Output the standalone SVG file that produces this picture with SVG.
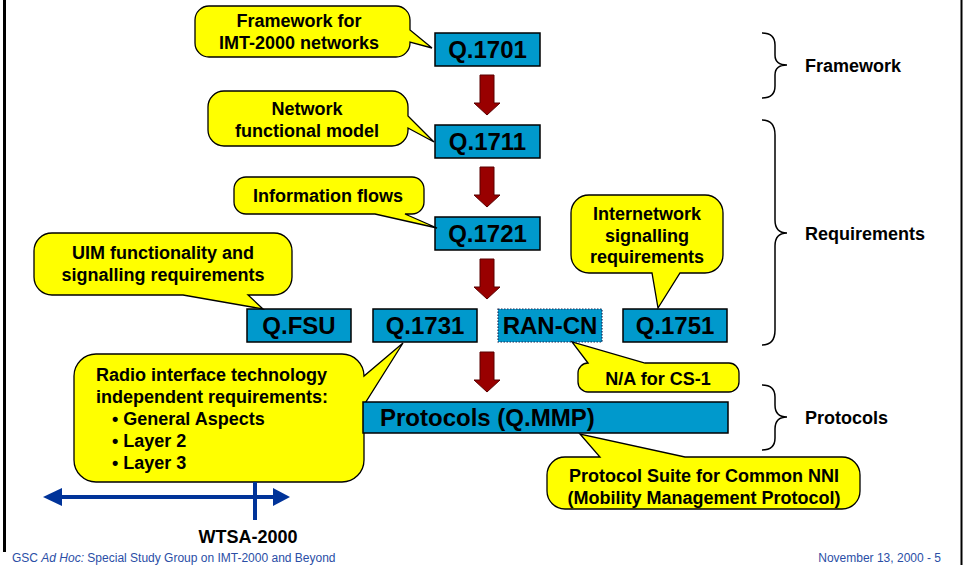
<svg xmlns="http://www.w3.org/2000/svg" width="965" height="571" viewBox="0 0 965 571">
<style>
.box{fill:#0099CC;stroke:#000;stroke-width:1.5}
.bt{font-family:"Liberation Sans",Arial,sans-serif;font-weight:bold;font-size:24px;fill:#000;text-anchor:middle}
.cl{fill:#FFFF00;stroke:#000;stroke-width:1.3;stroke-linejoin:miter}
.ct{font-family:"Liberation Sans",Arial,sans-serif;font-weight:bold;font-size:18px;fill:#000;text-anchor:middle}
.lt{font-family:"Liberation Sans",Arial,sans-serif;font-weight:bold;font-size:18px;fill:#000}
.br{fill:none;stroke:#000;stroke-width:1.5}
.arr{fill:#990000;stroke:#5a0000;stroke-width:1}
.ft{font-family:"Liberation Sans",Arial,sans-serif;font-size:12px;fill:#2a4ea6}
</style>
<rect width="965" height="571" fill="#fff"/>
<line x1="4.5" y1="0" x2="4.5" y2="552" stroke="#000" stroke-width="3"/>
<line x1="961.5" y1="0" x2="961.5" y2="565" stroke="#000" stroke-width="2"/>

<g id="connectors">
<path class="arr" d="M480,75 H494 V103 H500 L487,115 L474,103 H480 Z"/>
<path class="arr" d="M480,167 H494 V195 H500 L487,207 L474,195 H480 Z"/>
<path class="arr" d="M480,259 H494 V287 H500 L487,299 L474,287 H480 Z"/>
<path class="arr" d="M480,352 H494 V380 H500 L487,392 L474,380 H480 Z"/>
</g>

<g id="q1701"><rect class="box" x="435" y="33" width="105" height="33"/><text class="bt" x="487.5" y="58">Q.1701</text></g>
<g id="q1711"><rect class="box" x="435" y="125" width="105" height="33"/><text class="bt" x="487.5" y="150">Q.1711</text></g>
<g id="q1721"><rect class="box" x="435" y="217" width="105" height="33"/><text class="bt" x="487.5" y="242">Q.1721</text></g>
<g id="qfsu"><rect class="box" x="247" y="309" width="104" height="33"/><text class="bt" x="299" y="334">Q.FSU</text></g>
<g id="q1731"><rect class="box" x="373" y="309" width="104" height="33"/><text class="bt" x="425" y="334">Q.1731</text></g>
<g id="rancn"><rect x="498" y="309" width="104" height="33" fill="#0099CC" stroke="#1a2a55" stroke-width="1.2" stroke-dasharray="1.5,1.5"/><text class="bt" x="550" y="334">RAN-CN</text></g>
<g id="q1751"><rect class="box" x="623" y="309" width="104" height="33"/><text class="bt" x="675" y="334">Q.1751</text></g>

<g id="callout-radio">
<path class="cl" d="M96,354 H342 A22,22 0 0 1 364,376 L403,343 L364,405 V460 A22,22 0 0 1 342,482 H96 A22,22 0 0 1 74,460 V376 A22,22 0 0 1 96,354 Z"/>
<text class="lt" x="96" y="381">Radio interface technology</text>
<text class="lt" x="96" y="403">independent requirements:</text>
<text class="lt" x="112" y="425">• General Aspects</text>
<text class="lt" x="112" y="447">• Layer 2</text>
<text class="lt" x="112" y="469">• Layer 3</text>
</g>

<g id="qmmp"><rect class="box" x="363" y="402" width="365" height="31"/><text class="lt" x="380" y="426" style="font-size:24px">Protocols (Q.MMP)</text></g>

<g id="callout-framework">
<path class="cl" d="M209,6 H396 A14,14 0 0 1 410,20 V30 L432,48 L410,42 V43 A14,14 0 0 1 396,57 H209 A14,14 0 0 1 195,43 V20 A14,14 0 0 1 209,6 Z"/>
<text class="ct" x="299" y="27">Framework for</text>
<text class="ct" x="299" y="49">IMT-2000 networks</text>
</g>
<g id="callout-network">
<path class="cl" d="M224,91 H392 A16,16 0 0 1 408,107 V116 L434,142 L408,128 V130 A16,16 0 0 1 392,146 H224 A16,16 0 0 1 208,130 V107 A16,16 0 0 1 224,91 Z"/>
<text class="ct" x="307" y="115">Network</text>
<text class="ct" x="307" y="137">functional model</text>
</g>
<g id="callout-info">
<path class="cl" d="M246,177 H412 A12,12 0 0 1 424,189 V202 A12,12 0 0 1 412,214 H405 L437,228 L375,214 H246 A12,12 0 0 1 234,202 V189 A12,12 0 0 1 246,177 Z"/>
<text class="ct" x="328" y="202">Information flows</text>
</g>
<g id="callout-uim">
<path class="cl" d="M52,233 H274 A18,18 0 0 1 292,251 V277 A18,18 0 0 1 274,295 H248 L263,309 L183,295 H52 A18,18 0 0 1 34,277 V251 A18,18 0 0 1 52,233 Z"/>
<text class="ct" x="163" y="259">UIM functionality and</text>
<text class="ct" x="163" y="281">signalling requirements</text>
</g>
<g id="callout-internetwork">
<path class="cl" d="M589,195 H705 A18,18 0 0 1 723,213 V255 A18,18 0 0 1 705,273 H680 L658,308 L652,273 H589 A18,18 0 0 1 571,255 V213 A18,18 0 0 1 589,195 Z"/>
<text class="ct" x="647" y="220">Internetwork</text>
<text class="ct" x="647" y="242">signalling</text>
<text class="ct" x="647" y="263">requirements</text>
</g>
<g id="callout-na">
<path class="cl" d="M588,363 L572,342 L645,363 H729 A10,10 0 0 1 739,373 V382 A10,10 0 0 1 729,392 H588 A10,10 0 0 1 578,382 V373 A10,10 0 0 1 588,363 Z"/>
<text class="ct" x="658" y="385">N/A for CS-1</text>
</g>
<g id="callout-suite">
<path class="cl" d="M565,457 H600 L580,434 L685,457 H842 A18,18 0 0 1 860,475 V491 A18,18 0 0 1 842,509 H565 A18,18 0 0 1 547,491 V475 A18,18 0 0 1 565,457 Z"/>
<text class="ct" x="704" y="482">Protocol Suite for Common NNI</text>
<text class="ct" x="704" y="504">(Mobility Management Protocol)</text>
</g>

<g id="braces">
<path class="br" d="M762,33 Q775,33 775,45 V55 Q775,65 787,65 Q775,65 775,75 V86 Q775,98 762,98"/>
<text class="lt" x="805" y="72">Framework</text>
<path class="br" d="M762,120 Q775,120 775,135 V220 Q775,233 787,233 Q775,233 775,246 V330 Q775,345 762,345"/>
<text class="lt" x="805" y="240">Requirements</text>
<path class="br" d="M762,385 Q775,385 775,397 V405 Q775,417 787,417 Q775,417 775,429 V438 Q775,450 762,450"/>
<text class="lt" x="805" y="424">Protocols</text>
</g>

<g id="timeline">
<line x1="58" y1="497" x2="276" y2="497" stroke="#003399" stroke-width="4"/>
<polygon points="43,497 62,488 62,506" fill="#003399"/>
<polygon points="290,497 273,488 273,506" fill="#003399"/>
<line x1="255" y1="482" x2="255" y2="520" stroke="#003399" stroke-width="4"/>
<text class="ct" x="248" y="543">WTSA-2000</text>
</g>

<text class="ft" x="12" y="562">GSC <tspan font-style="italic">Ad Hoc:</tspan> Special Study Group on IMT-2000 and Beyond</text>
<text class="ft" x="941" y="562" text-anchor="end">November 13, 2000 - 5</text>
</svg>
